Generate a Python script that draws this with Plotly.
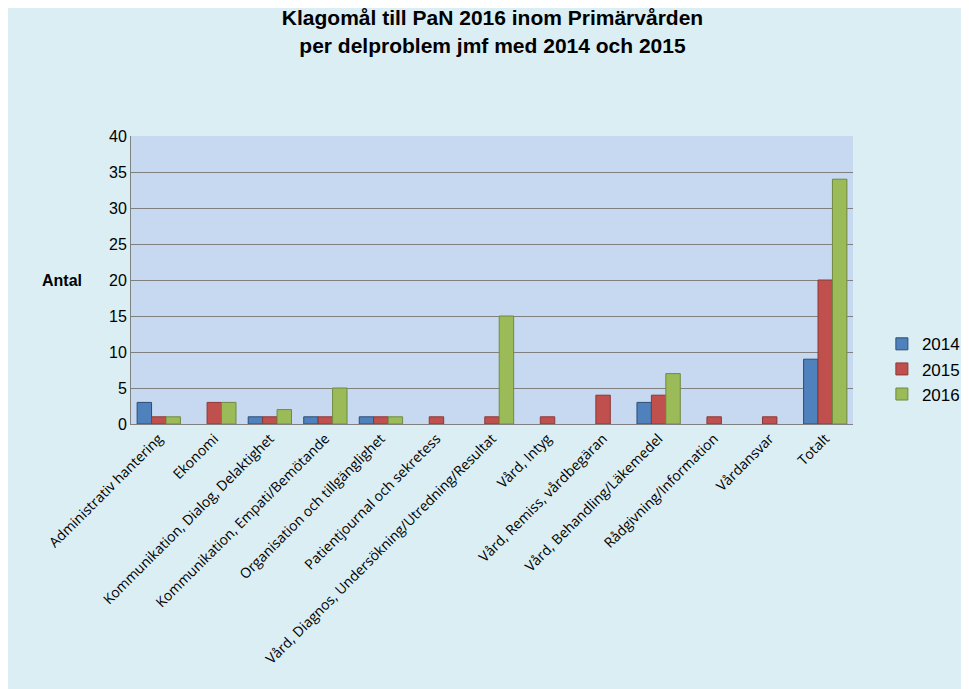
import plotly.graph_objects as go

categories = [
    "Administrativ hantering", "Ekonomi", "Kommunikation, Dialog, Delaktighet",
    "Kommunikation, Empati/Bemötande", "Organisation och tillgänglighet",
    "Patientjournal och sekretess", "Vård, Diagnos, Undersökning/Utredning/Resultat",
    "Vård, Intyg", "Vård, Remiss, vårdbegäran", "Vård, Behandling/Läkemedel",
    "Rådgivning/Information", "Vårdansvar", "Totalt",
]
v2014 = [3, None, 1, 1, 1, None, None, None, None, 3, None, None, 9]
v2015 = [1, 3, 1, 1, 1, 1, 1, 1, 4, 4, 1, 1, 20]
v2016 = [1, 3, 2, 5, 1, None, 15, None, None, 7, None, None, 34]

series = [("2014", v2014, "#4F81BD", "#2C4D75"),
          ("2015", v2015, "#C0504D", "#8C3836"),
          ("2016", v2016, "#9BBB59", "#71893F")]

fig = go.Figure()
for name, vals, col, edge in series:
    fig.add_trace(go.Bar(x=categories, y=vals, name=name,
                         marker=dict(color=col, line=dict(color=edge, width=1))))

fig.add_annotation(text="<b>Antal</b>", xref="paper", yref="paper", x=-0.065, y=0.5,
                   showarrow=False, font=dict(size=16, color="black"), xanchor="right")

fig.update_layout(
    width=969, height=689,
    paper_bgcolor="#DBEEF4", plot_bgcolor="#C6D9F1",
    font=dict(family="Liberation Sans, Arial", color="black"),
    title=dict(text="<b>Klagomål till PaN 2016 inom Primärvården<br>per delproblem jmf med 2014 och 2015</b>",
               x=0.5, xanchor="center", y=0.975, yanchor="top", font=dict(size=21)),
    margin=dict(l=123, r=112, t=128, b=273),
    barmode="group", bargap=0.22, bargroupgap=0.0,
    legend=dict(x=1.04, y=0.19, yanchor="middle", font=dict(size=17), tracegroupgap=14),
    showlegend=True,
)
fig.update_xaxes(tickangle=-45, tickfont=dict(size=14, family="Open Sans"),
                 showline=True, linecolor="#808080", automargin=False)
fig.update_yaxes(range=[0, 40], dtick=5, gridcolor="#808080", gridwidth=1, automargin=False,
                 tickfont=dict(size=16), showline=True, linecolor="#808080", zeroline=False)

fig.write_html("out.html")
